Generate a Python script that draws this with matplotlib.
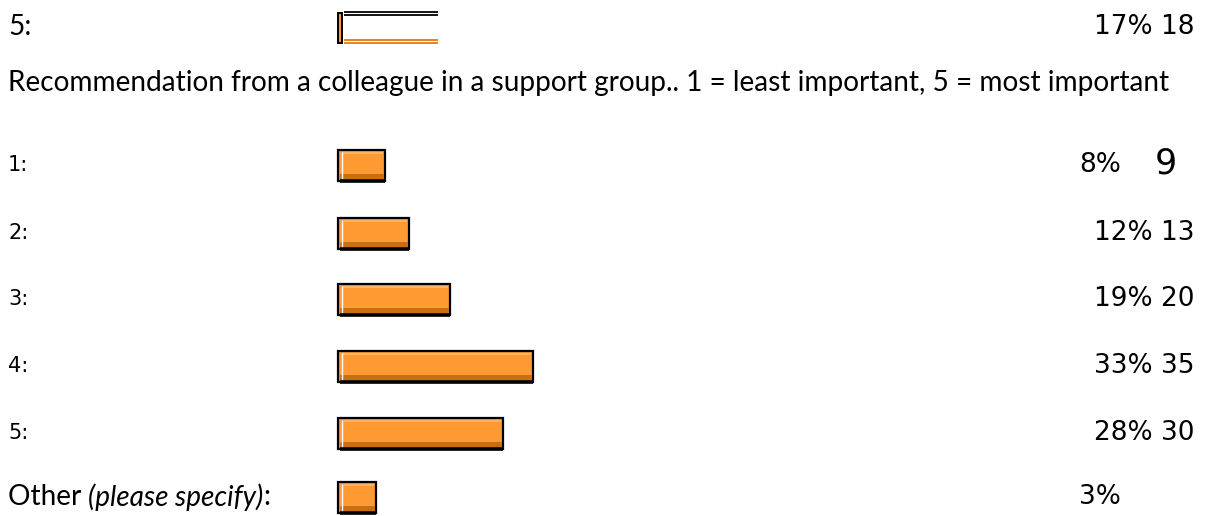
import matplotlib
matplotlib.use("Agg")
import matplotlib.pyplot as plt
from matplotlib.patches import Rectangle

# ---- data ----
top_label = "5:"
top_pct = 17
top_count = "18"
question = "Recommendation from a colleague in a support group.. 1 = least important, 5 = most important"
categories = ["1:", "2:", "3:", "4:", "5:"]
percents = [8, 12, 19, 33, 28]
counts = ["9", "13", "20", "35", "30"]
other_label = "Other"
other_note = "(please specify)"
other_pct = 3

W, H = 1206, 516
fig = plt.figure(figsize=(W / 100, H / 100), dpi=100)
ax = fig.add_axes([0, 0, 1, 1])
ax.set_xlim(0, W)
ax.set_ylim(H, 0)
ax.axis("off")

X0 = 338
SCALE = 5.9  # pixels per percent
BH = 31
ORANGE = "#FF9A33"
DARK = "#C8700F"

def draw_bar(y, pct, minw=0):
    w = max(pct * SCALE, minw)
    ax.barh(y, w, left=X0, height=BH, color=ORANGE, edgecolor="black", linewidth=1.6, zorder=2)
    ax.hlines(y + BH / 2, X0 + 2, X0 + w, color="black", linewidth=2.6, zorder=5)
    ax.barh(y + BH / 2 - 4, w - 3, left=X0 + 2, height=5, color=DARK, linewidth=0, zorder=3)
    ax.barh(y - BH / 2 + 3, w - 6, left=X0 + 4, height=2, color="#FFB560", linewidth=0, zorder=3)
    ax.vlines(X0 + 4, y - BH / 2 + 2, y + BH / 2 - 1, color="white", linewidth=1.0, zorder=4)

label_font = ["Liberation Sans Narrow", "DejaVu Sans"]
num_font = ["DejaVu Sans"]
body_font = ["Lato", "DejaVu Sans"]
NUM_FS = 19
BODY_FS = 20.2

# top partial row
ty = 27
tw = top_pct * SCALE
ax.hlines([12, 15], X0 + 6, X0 + tw, color="black", linewidth=1.3, zorder=3)
ax.hlines([39.5, 42.5], X0 + 6, X0 + tw, color="#E07A10", linewidth=1.3, zorder=3)
ax.add_patch(Rectangle((X0, 13), 4, 30, facecolor=ORANGE, edgecolor="black", linewidth=1.4, zorder=2))
ax.text(8, ty, top_label, fontsize=BODY_FS, family=body_font, va="center", ha="left")
ax.text(1194, ty, f"{top_pct}% {top_count}", fontsize=NUM_FS, family=num_font, va="center", ha="right")

ax.text(8, 83, question, fontsize=BODY_FS, family=body_font, va="center", ha="left")

ys = [165, 233, 299, 366, 433]
for y, c, p, n in zip(ys, categories, percents, counts):
    draw_bar(y, p)
    ax.text(8, y, c, fontsize=15, family=label_font, va="center", ha="left")
    if n == "9":
        ax.text(1121, y, f"{p}%", fontsize=NUM_FS, family=num_font, va="center", ha="right")
        ax.text(1166, y - 1, n, fontsize=25, family=num_font, va="center", ha="center")
    else:
        ax.text(1194, y, f"{p}% {n}", fontsize=NUM_FS, family=num_font, va="center", ha="right")

oy = 497
draw_bar(oy, other_pct, minw=38)
t = ax.text(8, oy, other_label + " ", fontsize=BODY_FS, family=body_font, va="center", ha="left")
t2 = ax.annotate(other_note, xy=(1, 0.5), xycoords=t, fontsize=BODY_FS, family=body_font,
                 style="italic", va="center", ha="left")
ax.annotate(":", xy=(1, 0.5), xycoords=t2, fontsize=BODY_FS, family=body_font, va="center", ha="left")
ax.text(1121, oy, f"{other_pct}%", fontsize=NUM_FS, family=num_font, va="center", ha="right")

fig.savefig("out.png", dpi=100)
